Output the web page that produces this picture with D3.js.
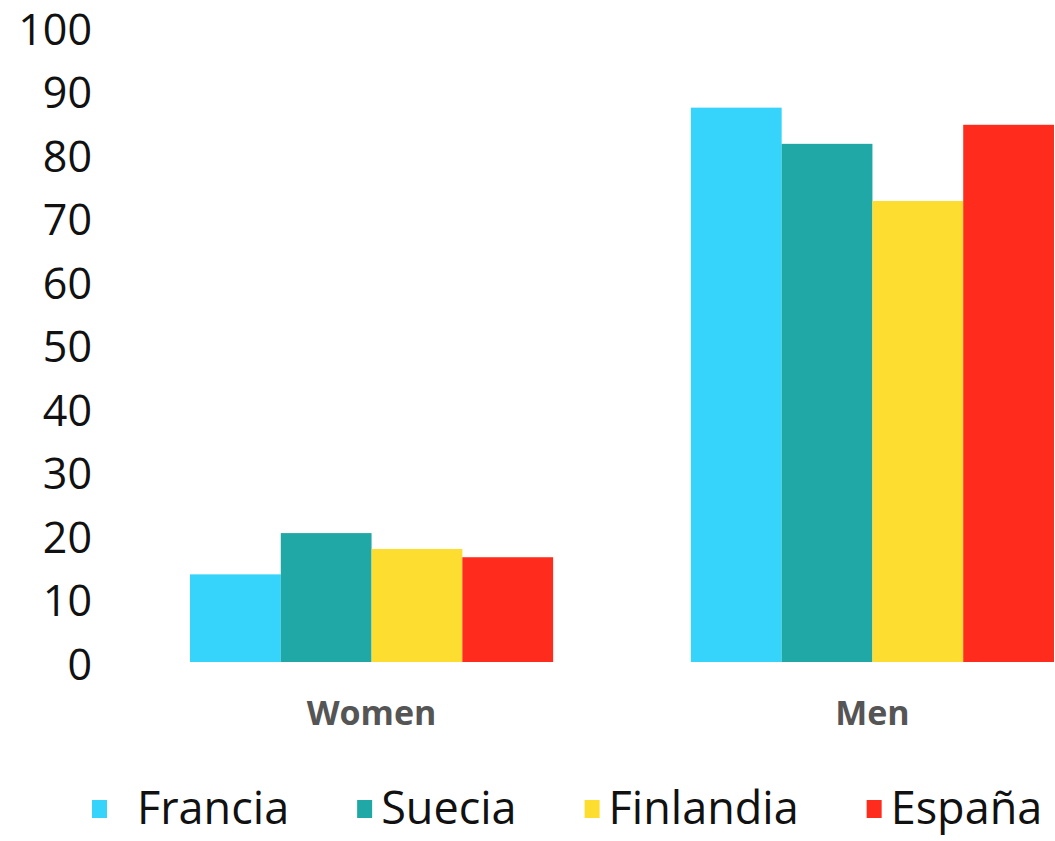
<!DOCTYPE html>
<html>
<head>
<meta charset="utf-8">
<script src="https://cdn.jsdelivr.net/npm/d3@7"></script>
<style>
  body { margin: 0; background: #fff; }
  svg { display: block; }
</style>
</head>
<body>
<div id="chart"></div>
<script>
// data
const groups = ['Women', 'Men']
const countries = ['Francia', 'Suecia', 'Finlandia', 'España']
const women = [13.8, 20.3, 17.8, 16.5]
const men = [87.3, 81.6, 72.6, 84.6]
const yTicks = [0, 10, 20, 30, 40, 50, 60, 70, 80, 90, 100]
const colors = ['#36D3FA', '#1FA8A6', '#FDDD30', '#FF2B1C']

let width = 1055,
    height = 841

let rows = []
groups.forEach((g, gi) => {
    let vals = gi == 0 ? women : men
    countries.forEach((c, ci) => {
        rows.push({ group: g, country: c, value: vals[ci] })
    })
})

const svg = d3.select('#chart')
    .append('svg')
    .attr('width', width)
    .attr('height', height)

const x0 = d3.scaleBand()
    .domain(groups)
    .range([190, 1054])
    .paddingInner(0.275)
    .paddingOuter(0)

const x1 = d3.scaleBand()
    .domain(countries)
    .range([0, x0.bandwidth()])

const y = d3.scaleLinear()
    .domain([0, 100])
    .range([662, 27])

const color = d3.scaleOrdinal()
    .domain(countries)
    .range(colors)

// y axis: labels only
const yAxis = svg.append('g')
    .attr('transform', 'translate(92,0)')
    .call(d3.axisLeft(y).tickValues(yTicks).tickSize(0).tickPadding(0))
yAxis.select('.domain').remove()
yAxis.selectAll('text')
    .attr('font-family', 'Open Sans')
    .attr('font-size', 43)
    .attr('fill', '#111')
    .attr('dy', '0.4em')

// bars
svg.selectAll('.bar')
    .data(rows)
    .enter().append('rect')
    .attr('class', 'bar')
    .attr('x', d => x0(d.group) + x1(d.country))
    .attr('width', x1.bandwidth())
    .attr('y', d => y(d.value))
    .attr('height', d => y(0) - y(d.value))
    .attr('fill', d => color(d.country))

// group labels
const xAxis = svg.append('g')
    .attr('transform', `translate(0,${y(0)})`)
    .call(d3.axisBottom(x0).tickSize(0).tickPadding(0))
xAxis.select('.domain').remove()
xAxis.selectAll('text')
    .attr('font-family', 'Open Sans')
    .attr('font-weight', 'bold')
    .attr('font-size', 34)
    .attr('fill', '#555')
    .attr('dy', '1.85em')

// legend
const legend = svg.append('g')
    .attr('transform', 'translate(0,808)')

let lx = 92
countries.forEach((c, i) => {
    let item = legend.append('g')
        .attr('transform', `translate(${lx},0)`)
    item.append('rect')
        .attr('x', 0)
        .attr('y', -8)
        .attr('width', 15)
        .attr('height', 18)
        .attr('fill', color(c))
    let t = item.append('text')
        .attr('x', i == 0 ? 45 : 24)
        .attr('y', 0)
        .attr('dy', '0.36em')
        .attr('font-family', 'Open Sans')
        .attr('font-size', 45)
        .attr('fill', '#111')
        .text(c)
    lx += (i == 0 ? 45 : 24) + t.node().getComputedTextLength() + 68
})
</script>
</body>
</html>
